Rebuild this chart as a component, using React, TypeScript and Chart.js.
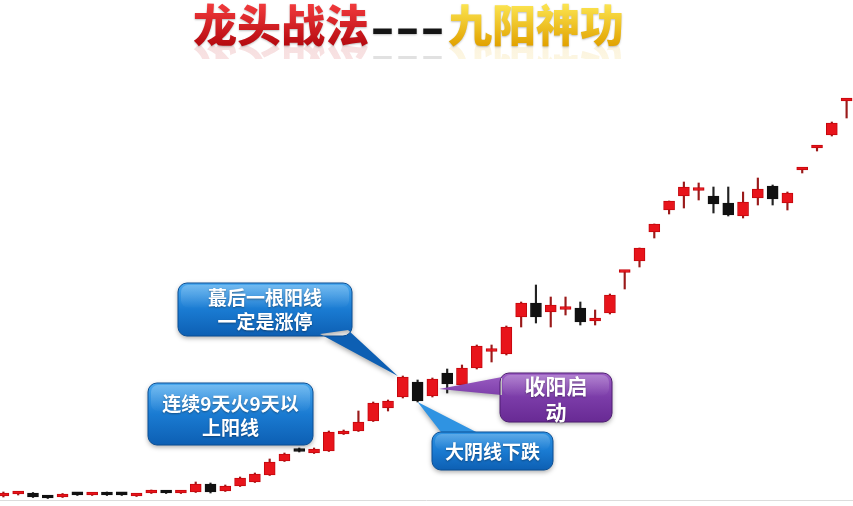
import React, { useEffect, useRef } from "react";
import { Chart, registerables } from "chart.js";

Chart.register(...registerables);

// ---- data (one candle per trading day) ----
const days: string[] = Array.from({ length: 58 }, (_, i) => `D${i + 1}`);

const opens: number[] = [
  0.4, 0.6, 0.7, 0.25, 0.3, 0.6, 0.5, 0.7, 0.6, 0.4,
  0.7, 0.9, 0.7, 0.8, 1.6, 0.9, 1.4, 1.8, 2.5, 3.9,
  4.9, 4.7, 4.9, 6.6, 6.9, 7.9, 9.2, 10.3, 11.8, 10.4,
  12.7, 11.5, 13.2, 14.85, 14.6, 18.3, 19.7, 18.8, 19.05, 19.2,
  17.9, 18.7, 22.75, 23.9, 26.8, 29.0, 30.4, 30.95, 30.4, 29.7,
  28.4, 30.2, 31.4, 29.7, 33.0, 35.2, 36.5, 39.9,
];
const closes: number[] = [
  0.7, 0.75, 0.3, 0.2, 0.6, 0.52, 0.62, 0.5, 0.52, 0.6,
  0.9, 0.7, 0.9, 1.6, 0.8, 1.4, 2.2, 2.6, 3.8, 4.6,
  4.85, 5.1, 6.8, 6.9, 7.8, 9.7, 9.9, 12.3, 9.9, 12.1,
  11.6, 13.2, 15.4, 14.9, 17.3, 19.7, 18.3, 19.5, 19.1, 17.8,
  18.15, 20.5, 22.9, 25.2, 27.6, 29.9, 31.3, 31.0, 29.6, 28.5,
  29.8, 31.1, 30.1, 30.7, 33.15, 35.35, 37.7, 40.05,
];
const highs: number[] = [
  0.8, 0.85, 0.75, 0.3, 0.65, 0.7, 0.7, 0.8, 0.65, 0.65,
  1.0, 0.95, 0.95, 1.8, 1.7, 1.5, 2.3, 2.7, 4.1, 4.7,
  5.2, 5.2, 6.9, 7.0, 8.9, 9.8, 10.0, 12.4, 12.0, 12.2,
  13.1, 13.5, 15.5, 15.5, 17.4, 19.8, 21.5, 20.3, 20.3, 19.8,
  19.0, 20.6, 22.9, 25.2, 27.6, 29.9, 31.8, 31.7, 31.3, 31.3,
  30.8, 32.2, 31.5, 30.8, 33.15, 35.35, 37.8, 40.05,
];
const lows: number[] = [
  0.3, 0.5, 0.25, 0.15, 0.25, 0.45, 0.45, 0.45, 0.45, 0.35,
  0.65, 0.65, 0.65, 0.75, 0.7, 0.85, 1.35, 1.75, 2.45, 3.85,
  4.8, 4.65, 4.85, 6.55, 6.85, 7.85, 8.9, 10.2, 9.8, 10.3,
  10.7, 11.4, 13.1, 13.8, 14.5, 17.3, 17.7, 17.3, 18.5, 17.5,
  17.5, 18.6, 21.1, 23.3, 26.2, 28.6, 29.2, 30.0, 28.7, 28.4,
  28.2, 29.5, 29.5, 29.0, 32.7, 34.9, 36.4, 38.2,
];

const titleLeft = "龙头战法";
const titleDash = "---";
const titleRight = "九阳神功";

const SHIFT = 4; // canvas starts 4px left of the page edge

const RED = "#e8141b";
const RED_EDGE = "#c4070d";
const RED_WICK = "#9a1a1a";
const BLACK = "#111111";

function isUp(i: number) {
  return closes[i] >= opens[i];
}

function rrPath(ctx: CanvasRenderingContext2D, x: number, y: number, w: number, h: number, r: number) {
  ctx.moveTo(x + r, y);
  ctx.arcTo(x + w, y, x + w, y + h, r);
  ctx.arcTo(x + w, y + h, x, y + h, r);
  ctx.arcTo(x, y + h, x, y, r);
  ctx.arcTo(x, y, x + w, y, r);
  ctx.closePath();
}

type Callout = {
  box: [number, number, number, number];
  base?: [number, number, number, number];
  tip?: [number, number];
  stops: string[];
  edge: string;
  lines: string[];
  font: string;
  lineY: number[];
};

function drawCallout(ctx: CanvasRenderingContext2D, c: Callout) {
  const [x, y, w, h] = c.box;
  ctx.save();
  const g = ctx.createLinearGradient(0, y, 0, y + h);
  c.stops.forEach((s, k) => g.addColorStop(k / (c.stops.length - 1), s));
  ctx.beginPath();
  rrPath(ctx, x, y, w, h, 9);
  if (c.base && c.tip) {
    ctx.moveTo(c.base[0], c.base[1]);
    ctx.lineTo(c.tip[0], c.tip[1]);
    ctx.lineTo(c.base[2], c.base[3]);
    ctx.closePath();
  }
  ctx.shadowColor = "rgba(0,0,0,0.35)";
  ctx.shadowBlur = 5;
  ctx.shadowOffsetY = 2;
  ctx.fillStyle = g;
  ctx.fill("nonzero");
  ctx.shadowColor = "transparent";
  // glossy top
  ctx.beginPath();
  rrPath(ctx, x + 3, y + 2, w - 6, h * 0.42, 7);
  const gl = ctx.createLinearGradient(0, y, 0, y + h * 0.45);
  gl.addColorStop(0, "rgba(255,255,255,0.25)");
  gl.addColorStop(1, "rgba(255,255,255,0.02)");
  ctx.fillStyle = gl;
  ctx.fill();
  ctx.beginPath();
  rrPath(ctx, x, y, w, h, 9);
  ctx.strokeStyle = c.edge;
  ctx.lineWidth = 1;
  ctx.stroke();
  ctx.fillStyle = "#ffffff";
  ctx.font = c.font;
  ctx.textAlign = "center";
  ctx.textBaseline = "middle";
  ctx.shadowColor = "rgba(0,0,0,0.35)";
  ctx.shadowBlur = 2;
  ctx.shadowOffsetY = 1;
  c.lines.forEach((t, k) => ctx.fillText(t, x + w / 2, c.lineY[k]));
  ctx.restore();
}

function drawTitle(ctx: CanvasRenderingContext2D, mirror: boolean) {
  ctx.textBaseline = "middle";
  ctx.textAlign = "left";
  ctx.font = "900 44px 'Noto Sans CJK SC'";
  const gr = ctx.createLinearGradient(0, 5, 0, 45);
  gr.addColorStop(0, "#f0393b");
  gr.addColorStop(1, "#b60a10");
  ctx.save();
  if (!mirror) {
    ctx.shadowColor = "rgba(0,0,0,0.25)";
    ctx.shadowBlur = 2;
    ctx.shadowOffsetY = 1;
  }
  ctx.fillStyle = gr;
  ctx.fillText(titleLeft, 193, 25);
  const gy = ctx.createLinearGradient(0, 5, 0, 45);
  gy.addColorStop(0, "#fbe34f");
  gy.addColorStop(1, "#e2a300");
  ctx.fillStyle = gy;
  ctx.fillText(titleRight, 448, 25);
  const dw = ctx.measureText(titleDash).width;
  ctx.translate(370, 27);
  ctx.scale(75 / dw, 1);
  ctx.fillStyle = "#141414";
  ctx.fillText(titleDash, 0, 0);
  ctx.restore();
}

const annotations = {
  id: "annotations",
  beforeDatasetsDraw(chart: any) {
    const ctx: CanvasRenderingContext2D = chart.ctx;
    const ys = chart.scales.y;
    ctx.save();
    ctx.translate(SHIFT, 0);
    const yb = Math.round(ys.getPixelForValue(0)) + 0.5;
    ctx.strokeStyle = "#dcdcdc";
    ctx.lineWidth = 1;
    ctx.beginPath();
    ctx.moveTo(0, yb);
    ctx.lineTo(853, yb);
    ctx.stroke();
    ctx.restore();
  },
  afterDatasetsDraw(chart: any) {
    const ctx: CanvasRenderingContext2D = chart.ctx;
    const xs = chart.scales.x;
    const ys = chart.scales.y;
    const px = (i: number) => xs.getPixelForValue(i) - SHIFT;
    const py = (v: number) => ys.getPixelForValue(v);
    ctx.save();
    ctx.translate(SHIFT, 0);

    // faint reflection of the title
    ctx.save();
    ctx.beginPath();
    ctx.rect(180, 45, 460, 14);
    ctx.clip();
    ctx.globalAlpha = 0.13;
    ctx.translate(0, 90);
    ctx.scale(1, -1);
    drawTitle(ctx, true);
    ctx.restore();

    drawTitle(ctx, false);

    const blue = ["#4aa8ee", "#1a7bd2", "#0d5fb3"];
    const callouts: Callout[] = [
      {
        box: [178, 283, 174, 53],
        base: [320, 334, 348, 330],
        tip: [px(27) - 5, py(highs[27])],
        stops: blue,
        edge: "#0b4f95",
        lines: ["蕞后一根阳线", "一定是涨停"],
        font: "bold 19px 'Noto Sans CJK SC'",
        lineY: [298, 322],
      },
      {
        box: [148, 383, 165, 62],
        stops: blue,
        edge: "#0b4f95",
        lines: ["连续9天火9天以", "上阳线"],
        font: "bold 19px 'Noto Sans CJK SC'",
        lineY: [404, 428],
      },
      {
        box: [500, 373, 112, 49],
        base: [502, 377, 502, 395],
        tip: [px(30) - 8, py(11.1)],
        stops: ["#9c5fc4", "#7b3ca8", "#682a94"],
        edge: "#4e1d72",
        lines: ["收阳启", "动"],
        font: "bold 21px 'Noto Sans CJK SC'",
        lineY: [386, 412],
      },
      {
        box: [432, 432, 121, 38],
        base: [444, 436, 484, 436],
        tip: [px(28), py(lows[28])],
        stops: ["#2f93e2", "#1a7bd2", "#0d5fb3"],
        edge: "#0b4f95",
        lines: ["大阴线下跌"],
        font: "bold 19px 'Noto Sans CJK SC'",
        lineY: [452],
      },
    ];
    callouts.forEach((c) => drawCallout(ctx, c));
    ctx.restore();
  },
};

export default function App() {
  const ref = useRef<HTMLCanvasElement | null>(null);

  useEffect(() => {
    if (!ref.current) return;
    const bodyColors = days.map((_, i) => (isUp(i) ? RED : BLACK));
    const edgeColors = days.map((_, i) => (isUp(i) ? RED_EDGE : BLACK));
    const wickColors = days.map((_, i) => (isUp(i) ? RED_WICK : "#222222"));
    const chart = new Chart(ref.current, {
      type: "bar",
      data: {
        labels: days,
        datasets: [
          {
            label: "body",
            data: days.map((_, i) => [opens[i], closes[i]]) as any,
            backgroundColor: bodyColors,
            borderColor: edgeColors,
            borderWidth: 1,
            borderSkipped: false,
            barThickness: 11,
            minBarLength: 3,
            grouped: false,
            order: 1,
          } as any,
          {
            label: "wick",
            data: days.map((_, i) => [lows[i], highs[i]]) as any,
            backgroundColor: wickColors,
            borderWidth: 0,
            barThickness: 1.5,
            grouped: false,
            order: 2,
          } as any,
        ],
      },
      options: {
        animation: false,
        responsive: true,
        maintainAspectRatio: false,
        layout: { padding: { top: 0, bottom: 6, left: 0, right: 0 } },
        plugins: { legend: { display: false }, tooltip: { enabled: false }, title: { display: false } },
        scales: {
          x: { type: "category", display: false, offset: true, grid: { display: false } },
          y: { type: "linear", display: false, min: 0, max: 50 },
        },
      },
      plugins: [annotations as any],
    });
    return () => chart.destroy();
  }, []);

  return (
    <div style={{ position: "fixed", left: 0, top: 0, width: 853, height: 506, overflow: "hidden", background: "#ffffff" }}>
      <div style={{ position: "absolute", left: -SHIFT, top: 0, width: 858, height: 506 }}>
        <canvas ref={ref} />
      </div>
    </div>
  );
}
